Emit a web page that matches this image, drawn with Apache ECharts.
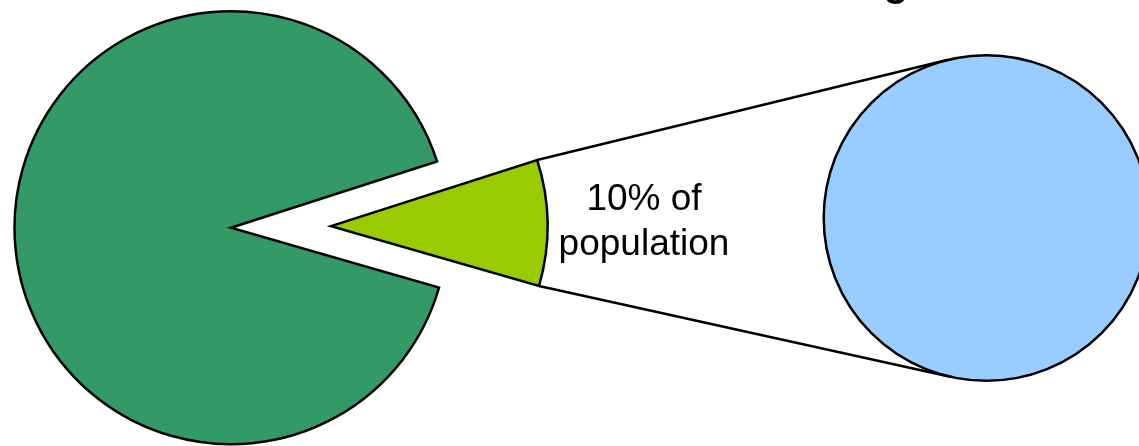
<!DOCTYPE html>
<html>
<head>
<meta charset="utf-8">
<script src="https://cdn.jsdelivr.net/npm/echarts@6/dist/echarts.min.js"></script>
<style>
html,body{margin:0;padding:0;background:#fff;}
#chart{width:1139px;height:446px;}
</style>
</head>
<body>
<div id="chart"></div>
<script>
// ---- data ----
const categories = ['Rest of population', '10% of population'];
const mainValues = [90.6, 9.4];          // main pie (share of population)
const secondaryValues = [9.4];           // secondary pie: the detached 10% group
const sliceLabel = '10% of\npopulation';
const titleText = 'g';                   // only the descender of the title is visible

// ---- layout ----
const W = 1139, H = 446;
const mainCenter = [231, 227.7];
const mainRadius = 216.5;
const explode = 100;
const secCenter = [986.5, 218];
const secRadius = 162.8;
const startAngle = 17.8;

const total = mainValues.reduce((a, b) => a + b, 0);
const sliceSpan = mainValues[1] / total * 360;
const aTop = startAngle * Math.PI / 180;
const aBot = (startAngle - sliceSpan) * Math.PI / 180;
const aMid = (aTop + aBot) / 2;
const apex = [mainCenter[0] + explode * Math.cos(aMid), mainCenter[1] - explode * Math.sin(aMid)];
const cTop = [apex[0] + mainRadius * Math.cos(aTop), apex[1] - mainRadius * Math.sin(aTop)];
const cBot = [apex[0] + mainRadius * Math.cos(aBot), apex[1] - mainRadius * Math.sin(aBot)];

function tangent(p, upper) {
  const vx = p[0] - secCenter[0], vy = p[1] - secCenter[1];
  const d = Math.hypot(vx, vy);
  const phi = Math.atan2(vy, vx);
  const beta = Math.acos(secRadius / d);
  const t1 = [secCenter[0] + secRadius * Math.cos(phi + beta), secCenter[1] + secRadius * Math.sin(phi + beta)];
  const t2 = [secCenter[0] + secRadius * Math.cos(phi - beta), secCenter[1] + secRadius * Math.sin(phi - beta)];
  if (upper) return t1[1] < t2[1] ? t1 : t2;
  return t1[1] > t2[1] ? t1 : t2;
}
const tTop = tangent(cTop, true);
const tBot = tangent(cBot, false);

const colors = { main: '#339966', slice: '#99CC00', secondary: '#99CCFF' };
const border = { borderColor: '#000', borderWidth: 2.5, borderJoin: 'miter', borderMiterLimit: 20 };

const chart = echarts.init(document.getElementById('chart'), null, { renderer: 'canvas', width: W, height: H });
chart.setOption({
  animation: false,
  backgroundColor: '#ffffff',
  tooltip: { show: false },
  series: [
    {
      type: 'pie',
      center: mainCenter,
      radius: mainRadius,
      startAngle: startAngle,
      clockwise: true,
      selectedMode: 'single',
      selectedOffset: explode,
      silent: true,
      label: { show: false },
      labelLine: { show: false },
      emphasis: { disabled: true },
      data: [
        { name: categories[1], value: mainValues[1], selected: true, itemStyle: Object.assign({ color: colors.slice }, border) },
        { name: categories[0], value: mainValues[0], itemStyle: Object.assign({ color: colors.main }, border) }
      ]
    },
    {
      type: 'pie',
      center: secCenter,
      radius: secRadius,
      silent: true,
      label: { show: false },
      labelLine: { show: false },
      emphasis: { disabled: true },
      data: secondaryValues.map(v => ({ name: categories[1], value: v, itemStyle: Object.assign({ color: colors.secondary }, border) }))
    }
  ],
  graphic: [
    { type: 'line', shape: { x1: cTop[0], y1: cTop[1], x2: tTop[0], y2: tTop[1] }, style: { stroke: '#000', lineWidth: 2.5 }, z: 10 },
    { type: 'line', shape: { x1: cBot[0], y1: cBot[1], x2: tBot[0], y2: tBot[1] }, style: { stroke: '#000', lineWidth: 2.5 }, z: 10 },
    { type: 'text', x: 644, y: 222, style: { text: sliceLabel, font: '37px "Liberation Sans", Arial, sans-serif', fill: '#000', align: 'center', verticalAlign: 'middle', lineHeight: 45 }, z: 10 },
    { type: 'text', x: 896, y: -15, style: { text: titleText, font: 'bold 40px "Liberation Sans", Arial, sans-serif', fill: '#000', align: 'center', verticalAlign: 'middle' }, z: 10 }
  ]
});
</script>
</body>
</html>
